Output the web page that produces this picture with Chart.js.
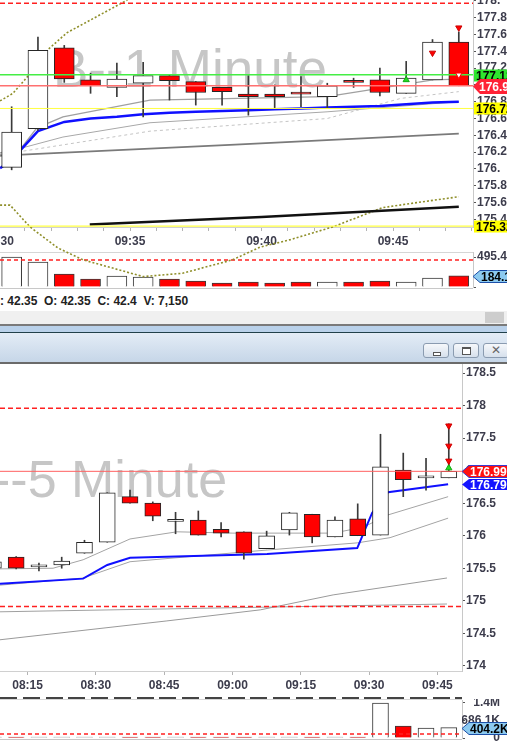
<!DOCTYPE html>
<html>
<head>
<meta charset="utf-8">
<title>1 / 5 Minute</title>
<script src="https://cdn.jsdelivr.net/npm/chart.js@4.4.1/dist/chart.umd.min.js"></script>
<style>
  html, body { margin: 0; padding: 0; background: #fff; }
  body { position: relative; width: 507px; height: 750px; overflow: hidden; font-family: "Liberation Sans", Arial, sans-serif; }
  .abs { position: absolute; }
  canvas { position: absolute; left: 0; }
  #topPrice { top: 0; z-index: 3; }
  #topVol { top: 250px; z-index: 1; }
  #botPrice { top: 364px; z-index: 2; }
  #botVol { top: 699px; z-index: 2; }
  #volTopLine { top: 252px; left: 0; width: 473px; height: 1px; background: #d6d6d6; }
  #volBotLine { top: 288px; left: 0; width: 473px; height: 1px; background: #c8c8c8; }
  #info { top: 294px; left: 0; font-weight: bold; font-size: 12px; color: #222; white-space: pre; }
  #scroll { top: 311px; left: 0; width: 507px; height: 13px; background: #f0f0f0; }
  #thumb { top: 312px; left: 485px; width: 19px; height: 11px; background: #cdcdcd; }
  #sep1 { top: 324px; left: 0; width: 507px; height: 2px; background: #7a7a7a; }
  #band { top: 326px; left: 0; width: 507px; height: 6px; background: #b9d1ea; }
  #sep2 { top: 332px; left: 0; width: 507px; height: 1px; background: #20404a; }
  #title { top: 333px; left: 0; width: 507px; height: 29px; background: linear-gradient(#e3ecf6, #c6d6e8); }
  #sep3 { top: 362px; left: 0; width: 507px; height: 2px; background: #6a6a6a; }
  .btn { top: 343px; width: 26px; height: 15px; border: 1px solid #8a9bb0; border-radius: 3px; background: linear-gradient(#f6f8fb, #d6e0ec); box-sizing: border-box; }
  .btn i { position: absolute; display: block; }
  #paneDash { top: 697px; left: 0; width: 462px; height: 2px; background: repeating-linear-gradient(to right, #444 0 17px, transparent 17px 22.77px); z-index: 4; }
  #volTop2 { top: 699px; left: 0; width: 462px; height: 1px; background: #d6d6d6; z-index: 1; }
  #volBot2 { top: 739px; left: 0; width: 462px; height: 1px; background: #c8c8c8; z-index: 1; }
</style>
</head>
<body>
<canvas id="topPrice" width="507" height="290"></canvas>
<div class="abs" id="volTopLine"></div>
<div class="abs" id="volBotLine"></div>
<canvas id="topVol" width="507" height="40"></canvas>
<div class="abs" id="info">: 42.35  O: 42.35  C: 42.4  V: 7,150</div>
<div class="abs" id="scroll"></div>
<div class="abs" id="thumb"></div>
<div class="abs" id="sep1"></div>
<div class="abs" id="band"></div>
<div class="abs" id="sep2"></div>
<div class="abs" id="title"></div>
<div class="abs" id="sep3"></div>
<div class="abs btn" style="left:423px"><i style="left:9px;top:8px;width:6px;height:2px;border:1px solid #555;background:#fff"></i></div>
<div class="abs btn" style="left:453px"><i style="left:8px;top:3px;width:7px;height:5px;border:1px solid #555;border-top-width:2px;background:#fff"></i></div>
<div class="abs btn" style="left:483px"><i style="left:7px;top:-1px;font-size:12px;color:#666;font-style:normal">&#x2715;</i></div>
<canvas id="botPrice" width="507" height="335"></canvas>
<div class="abs" id="paneDash"></div>
<div class="abs" id="volTop2"></div>
<div class="abs" id="volBot2"></div>
<canvas id="botVol" width="507" height="42"></canvas>
<script>
// ---------- 1 minute chart (minutes after 09:30) ----------
const oneMinTimes = [0, 1, 2, 3, 4, 5, 6, 7, 8, 9, 10, 11, 12, 13, 14, 15, 16, 17];
const oneMinOpen  = [176.02, 176.48, 177.44, 177.06, 176.97, 177.02, 177.11, 177.04, 176.97, 176.89, 176.89, 176.90, 176.86, 177.04, 177.06, 176.90, 177.06, 177.51];
const oneMinHigh  = [176.74, 177.57, 177.47, 177.14, 177.26, 177.27, 177.12, 177.04, 176.97, 177.11, 177.00, 177.10, 177.02, 177.08, 177.20, 177.28, 177.54, 177.63];
const oneMinLow   = [175.99, 176.46, 177.03, 176.90, 176.86, 176.62, 176.82, 176.76, 176.76, 176.64, 176.72, 176.74, 176.72, 176.97, 176.87, 176.90, 177.06, 176.99];
const oneMinClose = [176.44, 177.41, 177.07, 176.99, 177.07, 177.11, 177.05, 176.91, 176.92, 176.86, 176.86, 176.89, 176.99, 177.03, 176.91, 177.08, 177.51, 176.99];
const oneMinVolumeK = [495.4, 413, 215, 132, 182, 165, 132, 99, 66, 83, 66, 83, 83, 83, 99, 83, 149, 184.1];
const oneMinAxisTicks = [0, 1, 2, 3, 4, 5, 6, 7, 8, 9, 10, 11, 12, 13, 14, 15, 16, 17, 18];
const oneMinPriceTicks = [175.4, 175.6, 175.8, 176.0, 176.2, 176.4, 176.6, 176.8, 177.0, 177.2, 177.4, 177.6, 177.8, 178.0];

// indicator lines, [minute, price]
const oneMinBlue = [[0.06, 176.01], [0.5, 176.11], [1.5, 176.45], [2.5, 176.56], [3.5, 176.60], [4.5, 176.62], [5.5, 176.65], [6.5, 176.67], [7.5, 176.68], [8.5, 176.69], [9.5, 176.70], [10.5, 176.71], [11.5, 176.72], [12.5, 176.73], [13.5, 176.74], [14.5, 176.75], [15.5, 176.77], [16.5, 176.79], [17.5, 176.80]];
const oneMinFast = [[0.06, 176.19], [0.89, 176.26], [1.46, 176.49], [2.45, 176.62], [5.76, 176.82], [12.49, 176.86], [16.52, 177.06], [17.5, 177.07]];
const oneMinMid = [[0.06, 176.17], [0.89, 176.25], [2.45, 176.38], [5.76, 176.55], [12.49, 176.68], [17.5, 176.80]];
const oneMinDashed = [[0.06, 176.15], [0.89, 176.21], [5.76, 176.45], [12.49, 176.60], [15.3, 176.84], [17.5, 176.92]];
const oneMinSlow = [[0.06, 176.16], [0.89, 176.17], [9.0, 176.29], [17.5, 176.42]];
const oneMinBlack = [[3.47, 175.34], [10.0, 175.43], [17.5, 175.55]];
const oneMinBandUpper = [[0.06, 176.81], [0.17, 176.83], [0.55, 176.90], [1.08, 177.09], [1.88, 177.42], [2.6, 177.62], [4.9, 178.01]];
const oneMinBandLower = [[0.06, 175.57], [0.44, 175.57], [1.2, 175.31], [2.26, 175.06], [3.21, 174.92], [5.5, 174.72], [7.0, 174.76], [8.9, 174.92], [9.94, 175.07], [11.1, 175.16], [12.7, 175.31], [14.6, 175.54], [15.9, 175.60], [17.5, 175.67]];
const oneMinArrowsDown = [[16.5, 177.38], [17.5, 177.68]];
const oneMinArrowsUp = [[15.5, 177.06]];
const oneMinHollowDown = [[17.5, 177.12]];
const oneMinResistance = 177.97;
const oneMinGreenLevel = 177.12;
const oneMinYellowHigh = 176.72;
const oneMinYellowLow = 175.32;
const oneMinVolAvgK = 446;
const lastPrice = 176.99;

// ---------- 5 minute chart (bar start, minutes after 09:30) ----------
const fiveMinTimes = [-85, -80, -75, -70, -65, -60, -55, -50, -45, -40, -35, -30, -25, -20, -15, -10, -5, 0, 5, 10, 15];
const fiveMinOpen  = [175.50, 175.67, 175.52, 175.55, 175.73, 175.90, 176.60, 176.50, 176.22, 176.24, 176.10, 176.06, 175.80, 176.09, 176.33, 175.98, 176.26, 176.01, 177.01, 176.89, 176.89];
const fiveMinHigh  = [175.62, 175.68, 175.58, 175.67, 175.93, 176.66, 176.70, 176.52, 176.36, 176.38, 176.20, 176.06, 176.07, 176.36, 176.33, 176.29, 176.49, 177.56, 177.27, 177.19, 177.72];
const fiveMinLow   = [175.48, 175.49, 175.46, 175.50, 175.73, 175.90, 176.50, 176.23, 176.03, 176.01, 175.98, 175.64, 175.80, 176.01, 175.89, 175.98, 176.00, 176.01, 176.60, 176.70, 176.89];
const fiveMinClose = [175.60, 175.50, 175.55, 175.61, 175.90, 176.66, 176.50, 176.30, 176.25, 176.01, 176.04, 175.73, 176.00, 176.35, 175.98, 176.24, 176.00, 177.06, 176.86, 176.90, 176.99];
const fiveMinVolumeK = [20, 20, 20, 20, 20, 40, 20, 20, 20, 20, 20, 20, 20, 20, 20, 20, 20, 1372.2, 470, 392, 404.2];
const fiveMinAxisTicks = [-75, -60, -45, -30, -15, 0, 15];
const fiveMinPriceTicks = [174, 174.5, 175, 175.5, 176, 176.5, 177, 177.5, 178, 178.5];
const fiveMinVolTicks = [0, 686.1, 1372.2];

const fiveMinBlue = [[-81.05, 175.26], [-62.8, 175.34], [-57.5, 175.55], [-52.5, 175.66], [-22.4, 175.72], [-2.6, 175.81], [0.66, 176.35], [4.17, 176.67], [17.35, 176.79]];
const fiveMinFast = [[-81.05, 175.49], [-69.4, 175.50], [-62.8, 175.63], [-52.5, 175.95], [-42.2, 176.06], [-29.9, 176.04], [-7.9, 176.04], [-1.3, 176.13], [4.17, 176.32], [17.35, 176.60]];
const fiveMinMid = [[-81.05, 175.24], [-62.8, 175.35], [-52.5, 175.60], [-22.4, 175.78], [-2.6, 175.89], [4.6, 175.97], [17.35, 176.27]];
const fiveMinSlow = [[-81.05, 174.40], [-44.4, 174.69], [-23.9, 174.86], [-7.9, 175.09], [17.1, 175.35]];
const fiveMinFlat = [[-81.05, 174.83], [17.1, 174.95]];
const fiveMinArrowsDown = [[17.5, 177.69], [17.5, 177.38], [17.5, 177.15]];
const fiveMinArrowsUp = [[17.5, 177.04]];
const fiveMinResistance = 177.96;
const fiveMinSupport = 174.91;
const fiveMinBlueLast = 176.79;
const fiveMinVolAvgK = 157;

// ---------- helpers ----------
const fontFamily = '"Liberation Sans", Arial, sans-serif';
const tickFont = { family: fontFamily, size: 12, weight: 'bold' };
const axisText = '#3c3c4c';

function clockLabel(m) {
    const t = 570 + m;
    const h = Math.floor(t / 60);
    const mm = ((t % 60) + 60) % 60;
    return String(h).padStart(2, '0') + ':' + String(mm).padStart(2, '0');
}

function toXY(points) {
    return points.map(p => ({ x: p[0], y: p[1] }));
}

function candleSets(times, open, high, low, close, offset, bodyWidth) {
    const up = close.map((c, i) => c > open[i]);
    return [
        {
            type: 'bar',
            data: times.map((t, i) => ({ x: t + offset, y: [low[i], high[i]] })),
            backgroundColor: '#3a3a3a',
            barThickness: 1,
            grouped: false,
            minBarLength: 1,
            order: 3
        },
        {
            type: 'bar',
            data: times.map((t, i) => ({ x: t + offset, y: [open[i], close[i]] })),
            backgroundColor: up.map(u => u ? '#ffffff' : '#ff0000'),
            borderColor: '#262626',
            borderWidth: 1,
            borderSkipped: false,
            barThickness: bodyWidth,
            grouped: false,
            minBarLength: 2,
            order: 2
        }
    ];
}

function volumeSet(times, open, close, vol, offset, width) {
    return {
        type: 'bar',
        data: times.map((t, i) => ({ x: t + offset, y: vol[i] })),
        backgroundColor: close.map((c, i) => c >= open[i] ? '#ffffff' : '#ff0000'),
        borderColor: '#3a3a3a',
        borderWidth: 1,
        borderSkipped: 'start',
        barThickness: width,
        minBarLength: 1,
        grouped: false,
        order: 2
    };
}

function lineSet(points, color, width, dash, order, extra) {
    return Object.assign({
        type: 'line',
        data: toXY(points),
        borderColor: color,
        borderWidth: width,
        borderDash: dash || [],
        pointRadius: 0,
        tension: 0,
        fill: false,
        order: order
    }, extra || {});
}

function levelSet(value, xMin, xMax, color, width, dash) {
    return lineSet([[xMin, value], [xMax, value]], color, width, dash, 1);
}

function markerSet(points, fill, stroke, rotation) {
    return {
        type: 'line',
        showLine: false,
        data: toXY(points),
        pointStyle: 'triangle',
        pointRadius: 3.6,
        rotation: rotation,
        pointBackgroundColor: fill,
        pointBorderColor: stroke,
        pointBorderWidth: 1,
        order: 0
    };
}

function watermark(text, x, y, size) {
    return {
        id: 'watermark',
        beforeDatasetsDraw(chart) {
            const ctx = chart.ctx;
            ctx.save();
            ctx.font = size + 'px ' + fontFamily;
            ctx.fillStyle = '#c6c6c6';
            ctx.textBaseline = 'alphabetic';
            ctx.fillText(text, x, y);
            ctx.restore();
        }
    };
}

function priceTags(tags) {
    return {
        id: 'priceTags',
        afterDraw(chart) {
            const ctx = chart.ctx;
            const scale = chart.scales.y;
            const left = chart.chartArea.right + 1;
            ctx.save();
            ctx.textBaseline = 'middle';
            tags.forEach(tag => {
                const py = Math.round(scale.getPixelForValue(tag.value)) + 0.5;
                const h = tag.h;
                ctx.beginPath();
                if (tag.arrow) {
                    ctx.moveTo(left - 1, py);
                    ctx.lineTo(left + 6, py - h / 2);
                    ctx.lineTo(chart.width + 2, py - h / 2);
                    ctx.lineTo(chart.width + 2, py + h / 2);
                    ctx.lineTo(left + 6, py + h / 2);
                    ctx.closePath();
                } else {
                    ctx.rect(left, py - h / 2, chart.width, h);
                }
                ctx.fillStyle = tag.bg;
                ctx.fill();
                if (tag.border) {
                    ctx.strokeStyle = tag.border;
                    ctx.lineWidth = 1;
                    ctx.stroke();
                }
                ctx.font = 'bold ' + (tag.size || 12) + 'px ' + fontFamily;
                ctx.fillStyle = tag.fg;
                ctx.fillText(tag.text, left + (tag.textX || (tag.arrow ? 7 : 2)), py + 1);
            });
            ctx.restore();
        }
    };
}

function trimZero(v) {
    const s = Number(v).toFixed(1);
    return s.endsWith('.0') ? s.slice(0, -1) : s;
}

const baseOptions = {
    responsive: false,
    animation: false,
    events: [],
    plugins: { legend: { display: false }, tooltip: { enabled: false } }
};

function priceYAxis(min, max, ticks, width, fmt) {
    return {
        position: 'right',
        min: min,
        max: max,
        beginAtZero: false,
        afterBuildTicks: s => { s.ticks = ticks.map(v => ({ value: v })); },
        afterFit: s => { s.width = width; s.paddingTop = 0; s.paddingBottom = 0; },
        grid: { drawOnChartArea: false, tickLength: 3, color: '#555' },
        border: { color: '#c8c8c8' },
        ticks: { autoSkip: false, padding: 1, color: axisText, font: tickFont, callback: fmt }
    };
}

function timeXAxis(min, max, ticks, height, fmt) {
    return {
        type: 'linear',
        min: min,
        max: max,
        offset: false,
        afterBuildTicks: s => { s.ticks = ticks.map(v => ({ value: v })); },
        afterFit: s => { s.height = height; s.paddingLeft = 0; s.paddingRight = 0; },
        grid: { drawOnChartArea: false, offset: false, tickLength: 4, color: '#b4b4b4' },
        border: { color: '#d0d0d0' },
        ticks: { autoSkip: false, maxRotation: 0, padding: 3, color: axisText, font: tickFont, callback: fmt }
    };
}

function hiddenX(min, max) {
    return { type: 'linear', display: false, min: min, max: max, offset: false, grid: { offset: false } };
}

// ---------- 1 minute price ----------
const topXMin = 0.057, topXMax = 18.04;
new Chart(document.getElementById('topPrice'), {
    type: 'bar',
    data: {
        datasets: [
            lineSet(oneMinBandUpper, '#8f8f2a', 1.6, [2, 2], 6),
            lineSet(oneMinBandLower, '#8f8f2a', 1.6, [2, 2], 6, { clip: false }),
            lineSet(oneMinSlow, '#7a7a7a', 1.8, [], 5),
            lineSet(oneMinDashed, '#c4c4c4', 1, [3, 3], 5),
            lineSet(oneMinMid, '#a8a8a8', 1, [], 5),
            lineSet(oneMinFast, '#a0a0a0', 1.3, [], 5),
            lineSet(oneMinBlack, '#111111', 2.5, [], 5),
            lineSet(oneMinBlue, '#1010ff', 2.5, [], 4),
            levelSet(oneMinResistance, topXMin, topXMax, '#ff2020', 1.5, [5, 3]),
            levelSet(oneMinGreenLevel, topXMin, topXMax, '#44ee44', 1.5),
            levelSet(lastPrice, topXMin, topXMax, '#ff7070', 1.5),
            levelSet(oneMinYellowHigh, topXMin, topXMax, '#ffff40', 1),
            levelSet(oneMinYellowLow, topXMin, topXMax, '#ffff40', 1.2),
            ...candleSets(oneMinTimes, oneMinOpen, oneMinHigh, oneMinLow, oneMinClose, 0.5, 20),
            markerSet(oneMinArrowsDown, '#ff0000', '#cc0000', 180),
            markerSet(oneMinArrowsUp, '#22dd22', '#11aa11', 0),
            markerSet(oneMinHollowDown, '#ffffff', '#ff0000', 180)
        ]
    },
    options: Object.assign({}, baseOptions, {
        layout: { padding: 0, autoPadding: false },
        scales: {
            x: timeXAxis(topXMin, topXMax, oneMinAxisTicks, 63, v => v % 5 === 0 ? clockLabel(v) : ''),
            y: priceYAxis(175.31, 178.01, oneMinPriceTicks, 34, v => trimZero(v))
        }
    }),
    plugins: [
        watermark('B--1 Minute', 53, 87, 53),
        priceTags([
            { value: oneMinGreenLevel, text: oneMinGreenLevel.toFixed(2), bg: '#2ee62e', fg: '#000', h: 12 },
            { value: lastPrice, text: lastPrice.toFixed(2), bg: '#ff2236', fg: '#fff', h: 15, arrow: true, size: 12, textX: 5 },
            { value: oneMinYellowHigh, text: oneMinYellowHigh.toFixed(2), bg: '#ffff00', fg: '#000', h: 12 },
            { value: oneMinYellowLow, text: oneMinYellowLow.toFixed(2), bg: '#ffff00', fg: '#000', h: 12 }
        ])
    ]
});

// ---------- 1 minute volume ----------
new Chart(document.getElementById('topVol'), {
    type: 'bar',
    data: {
        datasets: [
            volumeSet(oneMinTimes, oneMinOpen, oneMinClose, oneMinVolumeK, 0.5, 20),
            levelSet(oneMinVolAvgK, topXMin, topXMax, '#ff2020', 1.5, [4, 3])
        ]
    },
    options: Object.assign({}, baseOptions, {
        layout: { padding: { top: 2, bottom: 3 }, autoPadding: false },
        scales: {
            x: hiddenX(topXMin, topXMax),
            y: {
                position: 'right', min: 0, max: 578,
                afterBuildTicks: s => { s.ticks = [0, oneMinVolumeK[0]].map(v => ({ value: v })); },
                afterFit: s => { s.width = 34; s.paddingTop = 0; s.paddingBottom = 0; },
                grid: { drawOnChartArea: false, tickLength: 3, color: '#555' },
                border: { color: '#c8c8c8' },
                ticks: { autoSkip: false, padding: 1, color: axisText, font: tickFont, callback: v => v === 0 ? '' : v.toFixed(1) + 'K' }
            }
        }
    }),
    plugins: [
        priceTags([
            { value: oneMinVolumeK[oneMinVolumeK.length - 1], text: oneMinVolumeK[oneMinVolumeK.length - 1].toFixed(1) + 'K', bg: '#8ccaf0', fg: '#000', border: '#1c4fa8', h: 12, arrow: true }
        ])
    ]
});

// ---------- 5 minute price ----------
const botXMin = -81.05, botXMax = 20.4;
new Chart(document.getElementById('botPrice'), {
    type: 'bar',
    data: {
        datasets: [
            lineSet(fiveMinSlow, '#9a9a9a', 1, [], 5),
            lineSet(fiveMinFlat, '#a0a0a0', 1, [], 5),
            lineSet(fiveMinMid, '#a4a4a4', 1, [], 5),
            lineSet(fiveMinFast, '#a4a4a4', 1, [], 5),
            lineSet(fiveMinBlue, '#1010ff', 2, [], 4),
            levelSet(fiveMinResistance, botXMin, botXMax, '#ff2020', 1.5, [5, 3]),
            levelSet(fiveMinSupport, botXMin, botXMax, '#ff2020', 1.5, [5, 3]),
            levelSet(lastPrice, botXMin, botXMax, '#ff6060', 1),
            ...candleSets(fiveMinTimes, fiveMinOpen, fiveMinHigh, fiveMinLow, fiveMinClose, 2.5, 16),
            markerSet(fiveMinArrowsDown, '#ff0000', '#cc0000', 180),
            markerSet(fiveMinArrowsUp, '#22dd22', '#11aa11', 0)
        ]
    },
    options: Object.assign({}, baseOptions, {
        layout: { padding: 0, autoPadding: false },
        scales: {
            x: timeXAxis(botXMin, botXMax, fiveMinAxisTicks, 28, v => clockLabel(v)),
            y: priceYAxis(173.92, 178.64, fiveMinPriceTicks, 45, v => (v % 1 === 0 ? String(v) : Number(v).toFixed(1)))
        }
    }),
    plugins: [
        watermark('--5 Minute', -7, 133, 52),
        priceTags([
            { value: lastPrice, text: lastPrice.toFixed(2), bg: '#ff1010', fg: '#fff', border: '#3a3ad0', h: 12, arrow: true },
            { value: fiveMinBlueLast, text: fiveMinBlueLast.toFixed(2), bg: '#1414ff', fg: '#fff', h: 11, arrow: true }
        ])
    ]
});

// ---------- 5 minute volume ----------
new Chart(document.getElementById('botVol'), {
    type: 'bar',
    data: {
        datasets: [
            volumeSet(fiveMinTimes, fiveMinOpen, fiveMinClose, fiveMinVolumeK, 2.5, 16),
            levelSet(fiveMinVolAvgK, botXMin, botXMax, '#ff2020', 1.5, [4, 3])
        ]
    },
    options: Object.assign({}, baseOptions, {
        layout: { padding: { top: 1, bottom: 3, right: 7 }, autoPadding: false },
        scales: {
            x: hiddenX(botXMin, botXMax),
            y: {
                position: 'right', min: 0, max: 1489.8,
                afterBuildTicks: s => { s.ticks = fiveMinVolTicks.map(v => ({ value: v })); },
                afterFit: s => { s.width = 38; s.paddingTop = 0; s.paddingBottom = 0; },
                grid: { drawOnChartArea: false, tickLength: 3, color: '#555' },
                border: { color: '#c8c8c8' },
                ticks: {
                    autoSkip: false, padding: 1, crossAlign: 'far', color: axisText, font: tickFont,
                    callback: v => v === 0 ? '0' : (v >= 1000 ? (v / 1000).toFixed(1) + 'M' : v.toFixed(1) + 'K')
                }
            }
        }
    }),
    plugins: [
        priceTags([
            { value: fiveMinVolumeK[fiveMinVolumeK.length - 1], text: fiveMinVolumeK[fiveMinVolumeK.length - 1].toFixed(1) + 'K', bg: '#8ccaf0', fg: '#000', border: '#1c4fa8', h: 12, arrow: true }
        ])
    ]
});
</script>
</body>
</html>
